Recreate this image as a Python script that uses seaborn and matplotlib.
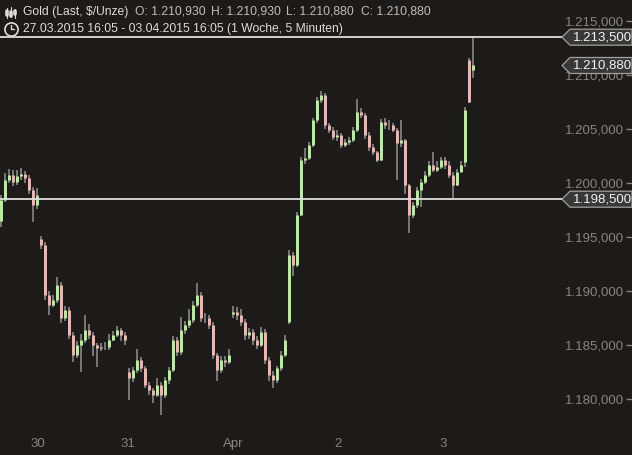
import numpy as np
import matplotlib
matplotlib.use("Agg")
import matplotlib.pyplot as plt
import seaborn as sns
from matplotlib.lines import Line2D
from matplotlib.patches import Polygon

# Gold (Last, $/Unze), 5-minute candles 27.03.2015 - 03.04.2015
# one slot = a handful of 5-minute bars
opens = [
    1196.50, 1198.43, 1200.28, 1200.74, 1200.09, 1200.65, 1200.83, 1200.46, 1199.35, 1197.96,
    1194.80, 1194.26, 1189.63, 1188.70, 1189.17, 1190.56, 1187.50, 1188.24, 1185.93, 1184.07,
    1185.00, 1185.46, 1186.39, 1185.93, 1185.00, 1184.72, 1184.81, 1184.81, 1185.46, 1185.93,
    1186.39, 1185.93, 1182.50, 1181.94, 1182.69, 1183.61, 1182.87, 1181.30, 1180.83, 1180.37,
    1181.30, 1180.37, 1181.76, 1182.69, 1185.46, 1184.35, 1186.39, 1186.85, 1187.31, 1188.70,
    1189.63, 1187.50, 1187.50, 1186.85, 1184.07, 1182.69, 1183.61, 1183.43, 1187.90, 1188.06,
    1187.78, 1187.13, 1185.93, 1186.20, 1185.46, 1185.00, 1186.20, 1183.61, 1182.22, 1181.76,
    1182.87, 1184.07, 1187.10, 1193.33, 1192.41, 1197.04, 1202.13, 1202.31, 1203.52, 1205.83,
    1207.69, 1208.15, 1205.37, 1204.91, 1204.26, 1204.44, 1203.52, 1203.80, 1203.98, 1204.91,
    1206.57, 1206.30, 1204.44, 1203.33, 1202.87, 1202.13, 1205.65, 1205.37, 1205.37, 1204.91,
    1203.70, 1203.98, 1199.81, 1197.04, 1197.96, 1199.35, 1200.09, 1200.74, 1201.67, 1201.20,
    1201.48, 1202.13, 1201.67, 1200.74, 1199.81, 1201.02, 1201.90, 1211.40, 1210.50,
]
closes = [
    1198.43, 1200.28, 1200.74, 1200.09, 1200.65, 1200.83, 1200.46, 1199.35, 1197.96, 1198.89,
    1194.26, 1189.63, 1188.70, 1189.17, 1190.56, 1187.50, 1188.24, 1185.93, 1184.07, 1185.00,
    1185.46, 1186.39, 1185.93, 1185.00, 1184.72, 1184.81, 1184.81, 1185.46, 1185.93, 1186.39,
    1185.93, 1185.46, 1181.94, 1182.69, 1183.61, 1182.87, 1181.30, 1180.83, 1180.37, 1181.30,
    1180.37, 1181.76, 1182.69, 1185.46, 1184.35, 1186.39, 1186.85, 1187.31, 1188.70, 1189.63,
    1187.50, 1187.50, 1186.85, 1184.07, 1182.69, 1183.61, 1183.43, 1184.07, 1188.06, 1187.78,
    1187.13, 1185.93, 1186.20, 1185.46, 1185.00, 1186.20, 1183.61, 1182.22, 1181.76, 1182.87,
    1184.07, 1185.46, 1193.33, 1192.41, 1197.04, 1202.13, 1202.31, 1203.52, 1205.83, 1207.69,
    1208.15, 1205.37, 1204.91, 1204.26, 1204.44, 1203.52, 1203.80, 1203.98, 1204.91, 1206.57,
    1206.30, 1204.44, 1203.33, 1202.87, 1202.13, 1205.65, 1205.37, 1205.37, 1204.91, 1203.70,
    1203.98, 1199.81, 1197.04, 1197.96, 1199.35, 1200.09, 1200.74, 1201.67, 1201.20, 1201.48,
    1202.13, 1201.67, 1200.74, 1199.81, 1201.02, 1201.67, 1206.80, 1207.50, 1210.88,
]
highs = [
    1198.9, 1200.9, 1201.3, 1201.2, 1201.2, 1201.4, 1201.1, 1200.7, 1199.6, 1199.5,
    1195.1, 1194.5, 1190.0, 1189.6, 1191.3, 1190.8, 1188.6, 1188.5, 1186.2, 1185.4,
    1186.0, 1187.8, 1186.9, 1186.2, 1185.2, 1185.2, 1185.3, 1186.0, 1186.3, 1186.8,
    1186.6, 1186.2, 1182.9, 1183.0, 1184.6, 1183.9, 1183.1, 1181.6, 1181.0, 1181.9,
    1181.6, 1182.0, 1183.0, 1185.8, 1185.7, 1187.6, 1187.2, 1188.3, 1189.1, 1190.7,
    1189.9, 1188.0, 1187.8, 1187.1, 1184.3, 1184.0, 1184.0, 1184.6, 1188.6, 1188.5,
    1188.3, 1187.4, 1186.6, 1186.5, 1185.8, 1186.7, 1186.5, 1183.9, 1182.6, 1183.1,
    1184.4, 1185.9, 1193.8, 1193.6, 1197.3, 1202.4, 1203.2, 1203.8, 1206.0, 1208.0,
    1208.5, 1208.3, 1205.6, 1205.2, 1204.9, 1204.6, 1204.1, 1204.3, 1205.2, 1207.8,
    1206.9, 1206.5, 1204.7, 1203.6, 1203.0, 1205.9, 1206.0, 1205.8, 1205.6, 1205.1,
    1205.8, 1204.1, 1199.9, 1198.2, 1199.6, 1200.4, 1201.1, 1202.0, 1202.9, 1202.0,
    1202.4, 1202.4, 1202.0, 1201.0, 1201.3, 1202.0, 1207.0, 1211.6, 1213.5,
]
lows = [
    1195.9, 1198.2, 1200.0, 1199.7, 1199.8, 1200.3, 1200.0, 1199.0, 1196.4, 1197.6,
    1193.9, 1189.2, 1187.8, 1188.5, 1188.9, 1187.0, 1187.2, 1185.6, 1183.4, 1183.8,
    1182.5, 1185.2, 1185.6, 1184.0, 1183.0, 1184.4, 1184.5, 1184.5, 1185.4, 1185.7,
    1185.4, 1185.0, 1179.9, 1181.6, 1182.4, 1182.5, 1181.0, 1180.4, 1179.6, 1180.2,
    1178.5, 1180.1, 1181.4, 1182.5, 1184.0, 1184.1, 1186.0, 1186.6, 1187.0, 1188.5,
    1187.1, 1187.0, 1186.5, 1183.7, 1181.7, 1182.4, 1183.0, 1183.2, 1187.5, 1187.3,
    1186.8, 1185.5, 1185.6, 1185.0, 1184.6, 1184.8, 1183.2, 1181.7, 1181.0, 1181.5,
    1182.6, 1183.9, 1186.9, 1191.4, 1192.2, 1196.9, 1201.8, 1202.1, 1203.3, 1205.6,
    1207.4, 1205.0, 1204.6, 1204.0, 1203.9, 1203.2, 1203.3, 1203.5, 1203.8, 1204.7,
    1206.0, 1204.1, 1203.0, 1202.6, 1201.9, 1202.0, 1205.0, 1204.9, 1204.7, 1200.3,
    1203.3, 1199.0, 1195.4, 1196.8, 1197.7, 1197.8, 1199.9, 1200.6, 1201.0, 1201.0,
    1201.3, 1201.3, 1200.5, 1198.6, 1199.7, 1201.0, 1201.5, 1207.4, 1209.7,
]

day_ticks = [9.25, 31.75, 58.0, 84.25, 110.5]
day_labels = ["30", "31", "Apr", "2", "3"]
price_ticks = [1180, 1185, 1190, 1195, 1200, 1205, 1210, 1215]
level_lines = [1213.5, 1198.5]
price_tags = [1213.5, 1210.88, 1198.5]

header_title = "Gold (Last, $/Unze)"
header_ohlc = ["O: 1.210,930", "H: 1.210,930", "L: 1.210,880", "C: 1.210,880"]
header_period = "27.03.2015 16:05 - 03.04.2015 16:05 (1 Woche, 5 Minuten)"

bg = "#1c1b1a"
up_col = "#b8f29c"
down_col = "#f4b6b3"
wick_col = "#787878"
axis_txt = "#858585"
narrow = ["Liberation Sans Narrow", "Liberation Sans", "DejaVu Sans"]


def de_fmt(v):
    s = f"{v:,.3f}"
    return s.replace(",", "X").replace(".", ",").replace("X", ".")


sns.set_theme(style="dark", rc={"axes.facecolor": bg, "figure.facecolor": bg,
                                "savefig.facecolor": bg})
plt.rcParams["font.family"] = ["Liberation Sans", "DejaVu Sans"]

W, H = 632, 455
fig = plt.figure(figsize=(W / 100, H / 100), dpi=100)
ax = fig.add_axes([0, 0, 1, 1])

o = np.array(opens)
c = np.array(closes)
x = np.arange(len(c))
up = c >= o

ax.vlines(x, lows, highs, color=wick_col, lw=1.4, zorder=2)
ax.vlines(x[up], o[up], c[up], color=up_col, lw=2.1, zorder=3)
ax.vlines(x[~up], o[~up], c[~up], color=down_col, lw=2.1, zorder=3)

for lvl in level_lines:
    ax.axhline(lvl, xmin=0, xmax=566 / W, color="#dedede", lw=1.3, zorder=4)

ax.set_xlim(-0.25, (W - 1) / 4)
ax.set_ylim(1216.944 - H / 10.8, 1216.944)

for sp in ax.spines.values():
    sp.set_visible(False)
ax.grid(False)

ax.set_yticks(price_ticks)
ax.set_yticklabels([de_fmt(v) for v in price_ticks])
ax.yaxis.tick_right()
ax.tick_params(axis="y", direction="in", length=4, width=1, color=axis_txt,
               pad=-6, labelcolor=axis_txt, labelsize=9.5)
for lab in ax.get_yticklabels():
    lab.set_horizontalalignment("right")
    lab.set_family(narrow)

ax.set_xticks(day_ticks)
ax.set_xticklabels(day_labels)
ax.tick_params(axis="x", direction="in", length=4, width=1, color=axis_txt,
               pad=-12.5, labelcolor=axis_txt, labelsize=9.5)
for lab in ax.get_xticklabels():
    lab.set_family(narrow)

# price tags on the right edge
tr = ax.get_yaxis_transform()
half = 8 / 10.8
for p in price_tags:
    poly = Polygon([(562 / W, p), (570 / W, p + half), (1.0, p + half),
                    (1.0, p - half), (570 / W, p - half)], closed=True,
                   transform=tr, facecolor="#383838", edgecolor="#a0a0a0",
                   lw=0.9, zorder=6, clip_on=False)
    ax.add_patch(poly)
    ax.text(573 / W, p, de_fmt(p), transform=tr, ha="left", va="center",
            color="#f2f2f2", fontsize=9.5, family=narrow, zorder=7)


# header
def fx(px, py):
    return px / W, 1 - py / H


hdr = "#dcdcdc"
fig.text(*fx(23, 12), header_title, color=hdr, fontsize=8.7, va="center")
for item, px in zip(header_ohlc, [135, 211, 286, 361]):
    fig.text(*fx(px, 12), item, color="#bdbdbd", fontsize=8.7, va="center")
fig.text(*fx(23, 29), header_period, color=hdr, fontsize=8.7, va="center")

# small candle icon
for px, top, bot, b0, b1 in [(7, 8, 18, 11, 15), (11, 7, 17, 12, 16), (15, 9, 18, 11, 14)]:
    fig.add_artist(Line2D([px / W, px / W], [1 - top / H, 1 - bot / H],
                          transform=fig.transFigure, color=hdr, lw=0.8))
    fig.add_artist(Line2D([px / W, px / W], [1 - b0 / H, 1 - b1 / H],
                          transform=fig.transFigure, color=hdr, lw=2.6))
# clock icon
fig.add_artist(Line2D([11 / W], [1 - 29 / H], transform=fig.transFigure, marker="o",
                      ms=9.5, mfc="none", mec=hdr, mew=1.2, ls="none"))
fig.add_artist(Line2D([11 / W, 11 / W, 14 / W], [1 - 25 / H, 1 - 29 / H, 1 - 29 / H],
                      transform=fig.transFigure, color=hdr, lw=1.0))

fig.savefig("out.png", dpi=100, facecolor=bg)
